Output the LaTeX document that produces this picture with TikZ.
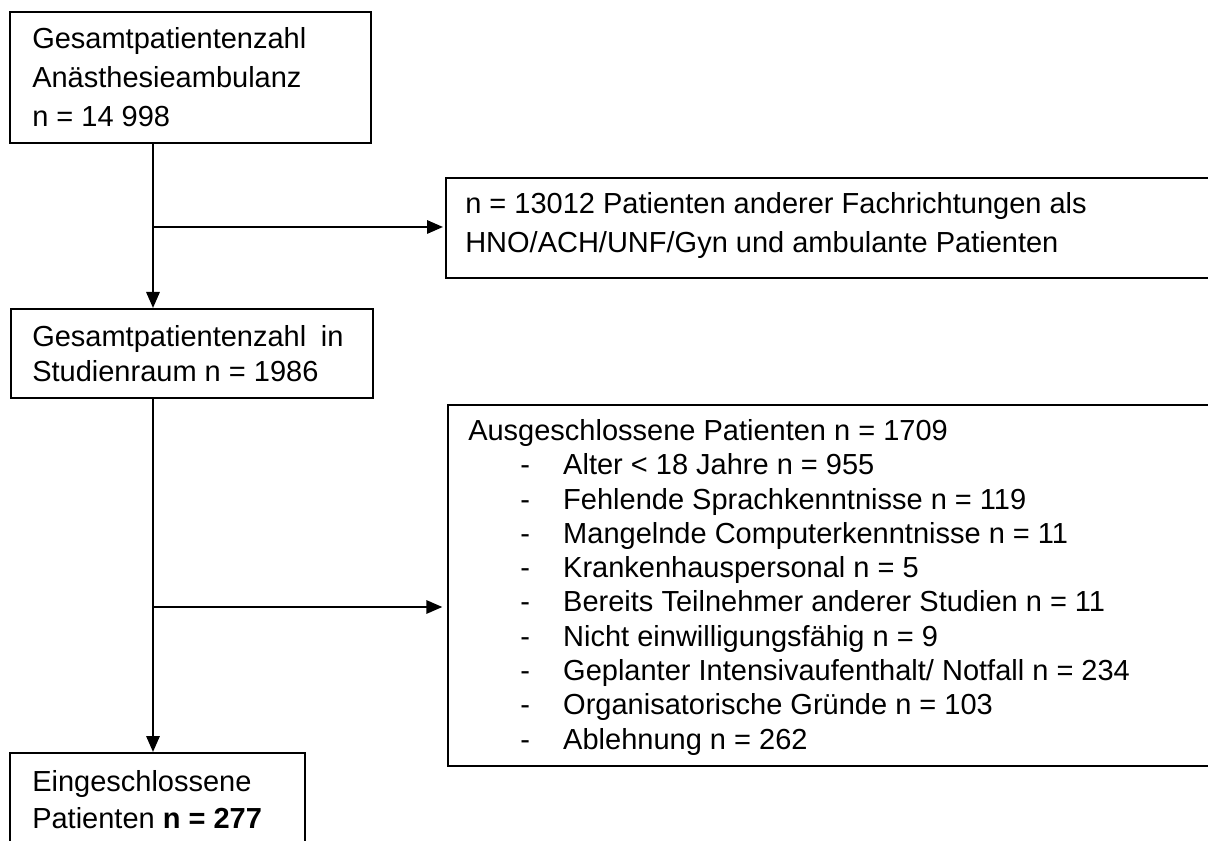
\documentclass[tikz,border=0pt]{standalone}
\usepackage{fontspec}
\setmainfont{Liberation Sans}
\usetikzlibrary{arrows.meta}
\begin{document}
\begin{tikzpicture}[x=0.75pt,y=-0.75pt,
  box/.style={draw, line width=1.4pt, inner sep=0pt, anchor=north west},
  txt/.style={inner sep=0pt, anchor=base west, align=left, font=\fontsize{21.75}{#1}\selectfont},
  conn/.style={line width=1.6pt},
  arr/.style={conn, -{Triangle[length=12pt,width=10pt]}}]
\clip (0,0) rectangle (1208,841);
\fill[white] (0,0) rectangle (1208,841);
% boxes
\node[box, minimum width=270.75pt, minimum height=98.25pt] (b1) at (9,11) {};
\node[box, minimum width=271.5pt, minimum height=66.75pt] (b2) at (10,308) {};
\node[box, minimum width=600pt, minimum height=75pt] (b3) at (445,177) {};
\node[box, minimum width=600pt, minimum height=270.75pt] (b4) at (447,404) {};
\node[box, minimum width=221.25pt, minimum height=112.5pt] (b5) at (9,752) {};
% texts (anchored at the baseline of their last line)
\node[txt=29.25pt] (t1) at (32,127) {Gesamtpatientenzahl\\Anästhesieambulanz\\n = 14 998};
\node[txt=26.25pt] (t2) at (32,382) {Gesamtpatientenzahl\hspace{11pt}in\\Studienraum n = 1986};
\node[txt=29.25pt] (t3) at (465,253) {n = 13012 Patienten anderer Fachrichtungen als\\HNO/ACH/UNF/Gyn und ambulante Patienten};
\node[txt=25.7pt] (t4) at (468,749) {Ausgeschlossene Patienten n = 1709\\
\hspace*{39pt}\makebox[32.25pt][l]{-}Alter < 18 Jahre n = 955\\
\hspace*{39pt}\makebox[32.25pt][l]{-}Fehlende Sprachkenntnisse n = 119\\
\hspace*{39pt}\makebox[32.25pt][l]{-}Mangelnde Computerkenntnisse n = 11\\
\hspace*{39pt}\makebox[32.25pt][l]{-}Krankenhauspersonal n = 5\\
\hspace*{39pt}\makebox[32.25pt][l]{-}Bereits Teilnehmer anderer Studien n = 11\\
\hspace*{39pt}\makebox[32.25pt][l]{-}Nicht einwilligungsfähig n = 9\\
\hspace*{39pt}\makebox[32.25pt][l]{-}Geplanter Intensivaufenthalt/ Notfall n = 234\\
\hspace*{39pt}\makebox[32.25pt][l]{-}Organisatorische Gründe n = 103\\
\hspace*{39pt}\makebox[32.25pt][l]{-}Ablehnung n = 262};
\node[txt=27.75pt] (t5) at (32,828) {Eingeschlossene\\Patienten \textbf{n = 277}};
% connectors
\coordinate (s) at (153,0);
\coordinate (j1) at (153,227);
\coordinate (j2) at (153,607);
\draw[arr] (b1.south -| s) -- (b2.north -| s);
\draw[arr, shorten >=1.5pt] (j1) -- (j1 -| b3.west);
\draw[arr] (b2.south -| s) -- (b5.north -| s);
\draw[arr, shorten >=3.5pt] (j2) -- (j2 -| b4.west);
\end{tikzpicture}
\end{document}
